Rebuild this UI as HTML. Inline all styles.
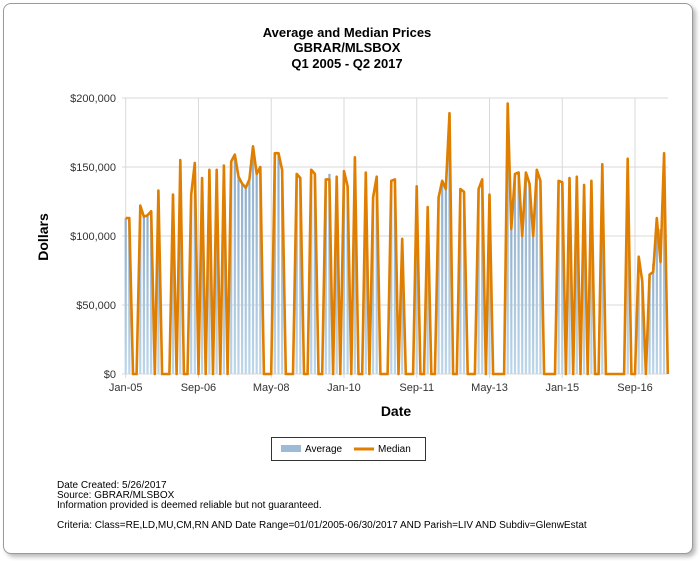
<!DOCTYPE html>
<html><head><meta charset="utf-8"><style>
body{margin:0;background:#fff;font-family:"Liberation Sans",sans-serif;}
#card{position:absolute;left:3px;top:3px;width:688px;height:549px;border:1px solid #9a9a9a;border-radius:8px;box-shadow:3px 3px 4px #bbb;background:#fff;}
.t{position:absolute;white-space:nowrap;}
</style></head><body>
<div id="card"></div>
<svg id="chart" width="700" height="561" style="position:absolute;left:0;top:0">
<defs><linearGradient id="bg" x1="0" y1="0" x2="0" y2="1"><stop offset="0" stop-color="#8eaecb"/><stop offset="1" stop-color="#bcd6ea"/></linearGradient></defs>
<g font-family="Liberation Sans, sans-serif" font-weight="bold" font-size="13" text-anchor="middle" fill="#000">
<text x="347" y="37">Average and Median Prices</text>
<text x="347" y="52">GBRAR/MLSBOX</text>
<text x="347" y="68">Q1 2005 - Q2 2017</text>
</g>
<g id="grid"></g><g id="bars"></g><g id="line"></g><g id="labels" font-family="Liberation Sans, sans-serif" font-size="11" fill="#333"></g>
<text x="48" y="237" transform="rotate(-90 48 237)" font-family="Liberation Sans, sans-serif" font-weight="bold" font-size="14" text-anchor="middle">Dollars</text>
<text x="396" y="416" font-family="Liberation Sans, sans-serif" font-weight="bold" font-size="14" text-anchor="middle">Date</text>
<g>
<rect x="271.5" y="437.5" width="154" height="23" fill="#fff" stroke="#333"/>
<rect x="281" y="445" width="20" height="7" fill="#9dbbd6"/>
<text x="305" y="452" font-family="Liberation Sans, sans-serif" font-size="10">Average</text>
<line x1="354" y1="449" x2="374" y2="449" stroke="#e07e00" stroke-width="3"/>
<text x="378" y="452" font-family="Liberation Sans, sans-serif" font-size="10">Median</text>
</g>
<g font-family="Liberation Sans, sans-serif" font-size="10" fill="#000">
<text x="57" y="488">Date Created: 5/26/2017</text>
<text x="57" y="498">Source: GBRAR/MLSBOX</text>
<text x="57" y="508">Information provided is deemed reliable but not guaranteed.</text>
<text x="57" y="528">Criteria: Class=RE,LD,MU,CM,RN AND Date Range=01/01/2005-06/30/2017 AND Parish=LIV AND Subdiv=GlenwEstat</text>
</g>
</svg>
<script>
const median=[113,113,0,0,122,114,115,118,0,133,0,0,0,130,0,155,0,0,130,153,0,142,0,148,0,148,0,151,0,154,159,143,138,135,141,165,145,150,0,0,0,160,160,148,0,0,0,145,142,0,0,148,145,0,0,141,141,0,143,0,147,136,0,157,0,0,146,0,128,143,0,0,0,140,141,0,98,0,0,0,136,0,0,121,0,0,128,140,134,189,0,0,134,132,0,0,0,134,141,0,130,0,0,0,0,196,105,145,146,100,146,138,100,148,140,0,0,0,0,140,139,0,142,0,143,0,137,0,140,0,0,152,0,0,0,0,0,0,156,0,0,85,67,0,72,74,113,81,160,0];
const average=median.slice();
average[56]=145;average[106]=105;average[146]=100;average[147]=105;average[145]=80;
const yTicks=[0,50000,100000,150000,200000];
const yTickLabels=["$0","$50,000","$100,000","$150,000","$200,000"];
const xTickIdx=[0,20,40,60,80,100,120,140];
const xTickLabels=["Jan-05","Sep-06","May-08","Jan-10","Sep-11","May-13","Jan-15","Sep-16"];
const NS="http://www.w3.org/2000/svg";
const X=i=>125.7+i*3.638;
const Y=v=>374-v*276/200000;
function mk(tag,attrs,parent){const e=document.createElementNS(NS,tag);for(const k in attrs)e.setAttribute(k,attrs[k]);parent.appendChild(e);return e;}
const grid=document.getElementById('grid'),bars=document.getElementById('bars'),line=document.getElementById('line'),labels=document.getElementById('labels');
yTicks.forEach((t,i)=>{
 const g=mk('line',{x1:122,x2:668,y1:Y(t),y2:Y(t),stroke:'#d9d9d9','stroke-width':1},grid);
 
 
 const tx=mk('text',{x:116,y:Y(t)+4,'text-anchor':'end'},labels);tx.textContent=yTickLabels[i];
 
 
});
xTickIdx.forEach((m,i)=>{
 const g=mk('line',{x1:X(m),x2:X(m),y1:98,y2:378,stroke:'#d9d9d9','stroke-width':1},grid);
 
 
 const tx=mk('text',{x:X(m),y:391,'text-anchor':'middle'},labels);tx.textContent=xTickLabels[i];
 
 
});
average.forEach((v,i)=>{
 if(v<=0)return;
 const r=mk('rect',{x:X(i)-1.1,y:Y(v*1000),width:2.2,height:374-Y(v*1000),fill:'url(#bg)'},bars);
 
 
});
const pts=median.map((v,i)=>X(i).toFixed(1)+','+Y(v*1000).toFixed(1)).join(' ');
const pl=mk('polyline',{points:pts,fill:'none',stroke:'#e07e00','stroke-width':2.6,'stroke-linejoin':'round'},line);


</script>
</body></html>
